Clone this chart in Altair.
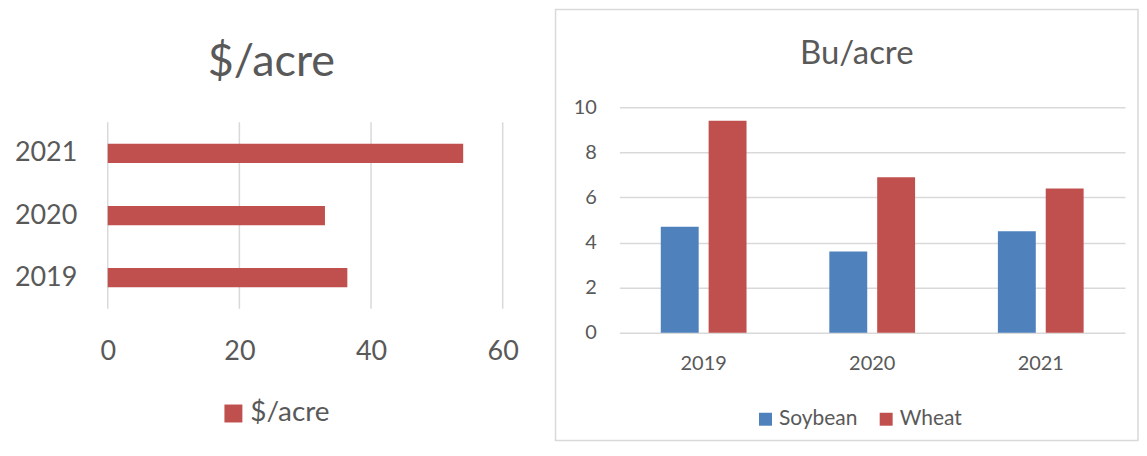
import altair as alt
import pandas as pd

# ---- data ----
years = ["2019", "2020", "2021"]
dollars_per_acre = [36.4, 33.0, 54.0]
soybean_bu = [4.7, 3.6, 4.5]
wheat_bu = [9.4, 6.9, 6.4]
crops = ["Soybean", "Wheat"]
left_title = "$/acre"
right_title = "Bu/acre"
x_ticks_left = [0, 20, 40, 60]
y_ticks_right = [0, 2, 4, 6, 8, 10]

TEXT = "#595959"
GRID = "#D9D9D9"
BLUE = "#4F81BD"
RED = "#C0504D"
FONT = "Lato"

left_df = pd.DataFrame({"year": years, "value": dollars_per_acre, "series": left_title})
left_grid_df = pd.DataFrame({"value": x_ticks_left})
right_df = pd.DataFrame({
    "year": years * 2,
    "crop": [crops[0]] * 3 + [crops[1]] * 3,
    "value": soybean_bu + wheat_bu,
})

LW, LH = 396, 202
RW, RH = 507, 226

one = alt.Data(values=[{}])
x_scale_left = alt.Scale(domain=[0, 60], nice=False)

# ---- left panel ----
left_frame = alt.Chart(one).mark_rect(opacity=0).encode(
    x=alt.value(-100), x2=alt.value(448), y=alt.value(-98), y2=alt.value(334)
)

left_grid = alt.Chart(left_grid_df).mark_rule(color=GRID, strokeWidth=1.5).encode(
    x=alt.X("value:Q", scale=x_scale_left),
    y=alt.value(15), y2=alt.value(LH),
)

left_bars = alt.Chart(left_df).mark_bar().encode(
    x=alt.X("value:Q", scale=x_scale_left,
            axis=alt.Axis(values=x_ticks_left, title=None, grid=False, domain=False,
                          ticks=False, labelFontSize=27, labelColor=TEXT, labelPadding=30,
                          labelFont=FONT, labelFlush=False)),
    y=alt.Y("year:N", sort=["2021", "2020", "2019"],
            scale=alt.Scale(range=[15, LH], paddingInner=0.69, paddingOuter=0.345),
            axis=alt.Axis(title=None, domain=False, ticks=False, labelFontSize=27,
                          labelColor=TEXT, labelPadding=31, labelFont=FONT)),
    color=alt.Color("series:N", scale=alt.Scale(domain=[left_title], range=[RED]),
                    legend=alt.Legend(title=None, orient="none", legendX=112, legendY=293,
                                      symbolType="square", symbolSize=324, symbolStrokeWidth=0,
                                      labelFontSize=28, labelColor=TEXT, labelFont=FONT,
                                      labelOffset=3)),
)

left_title_mark = alt.Chart(one).mark_text(
    text=left_title, fontSize=45, font=FONT, color=TEXT, align="center", baseline="alphabetic"
).encode(x=alt.value(164), y=alt.value(-31))

left = alt.layer(left_frame, left_grid, left_bars, left_title_mark).properties(width=LW, height=LH)

# ---- right panel ----
right_frame = alt.Chart(one).mark_rect(fill="white", fillOpacity=0, stroke=GRID, strokeWidth=1.5).encode(
    x=alt.value(-64), x2=alt.value(520), y=alt.value(-98), y2=alt.value(334)
)

right_bars = alt.Chart(right_df).mark_bar().encode(
    x=alt.X("year:N", scale=alt.Scale(paddingInner=0, paddingOuter=0),
            axis=alt.Axis(title=None, labelAngle=0, domain=False, ticks=False, labelFontSize=20,
                          labelColor=TEXT, labelPadding=21, labelFont=FONT)),
    xOffset=alt.XOffset("crop:N", sort=crops, scale=alt.Scale(paddingInner=0.208, paddingOuter=0.865)),
    y=alt.Y("value:Q", scale=alt.Scale(domain=[0, 10], nice=False),
            axis=alt.Axis(values=y_ticks_right, title=None, grid=True, gridColor=GRID,
                          gridWidth=1.5, domain=False, ticks=False, labelFontSize=20,
                          labelColor=TEXT, labelPadding=23, labelFont=FONT, labelFlush=False)),
    color=alt.Color("crop:N", sort=crops, scale=alt.Scale(domain=crops, range=[BLUE, RED]),
                    legend=alt.Legend(title=None, orient="none", direction="horizontal",
                                      legendX=136, legendY=302, symbolType="square",
                                      symbolSize=169, symbolStrokeWidth=0, labelFontSize=21,
                                      labelColor=TEXT, labelFont=FONT, labelOffset=3,
                                      columnPadding=18)),
)

right_title_mark = alt.Chart(one).mark_text(
    text=right_title, fontSize=33, font=FONT, color=TEXT, align="center", baseline="alphabetic"
).encode(x=alt.value(238), y=alt.value(-43))

right = alt.layer(right_frame, right_bars, right_title_mark).properties(width=RW, height=RH)

chart = (
    alt.hconcat(left, right, spacing=0)
    .resolve_scale(color="independent", x="independent", y="independent")
    .resolve_legend(color="independent")
    .properties(padding={"left": 0, "top": 0, "right": 0, "bottom": 0})
    .configure(font=FONT)
    .configure_view(stroke=None)
)

chart.save("out.html", embed_options={"renderer": "svg", "actions": False})
